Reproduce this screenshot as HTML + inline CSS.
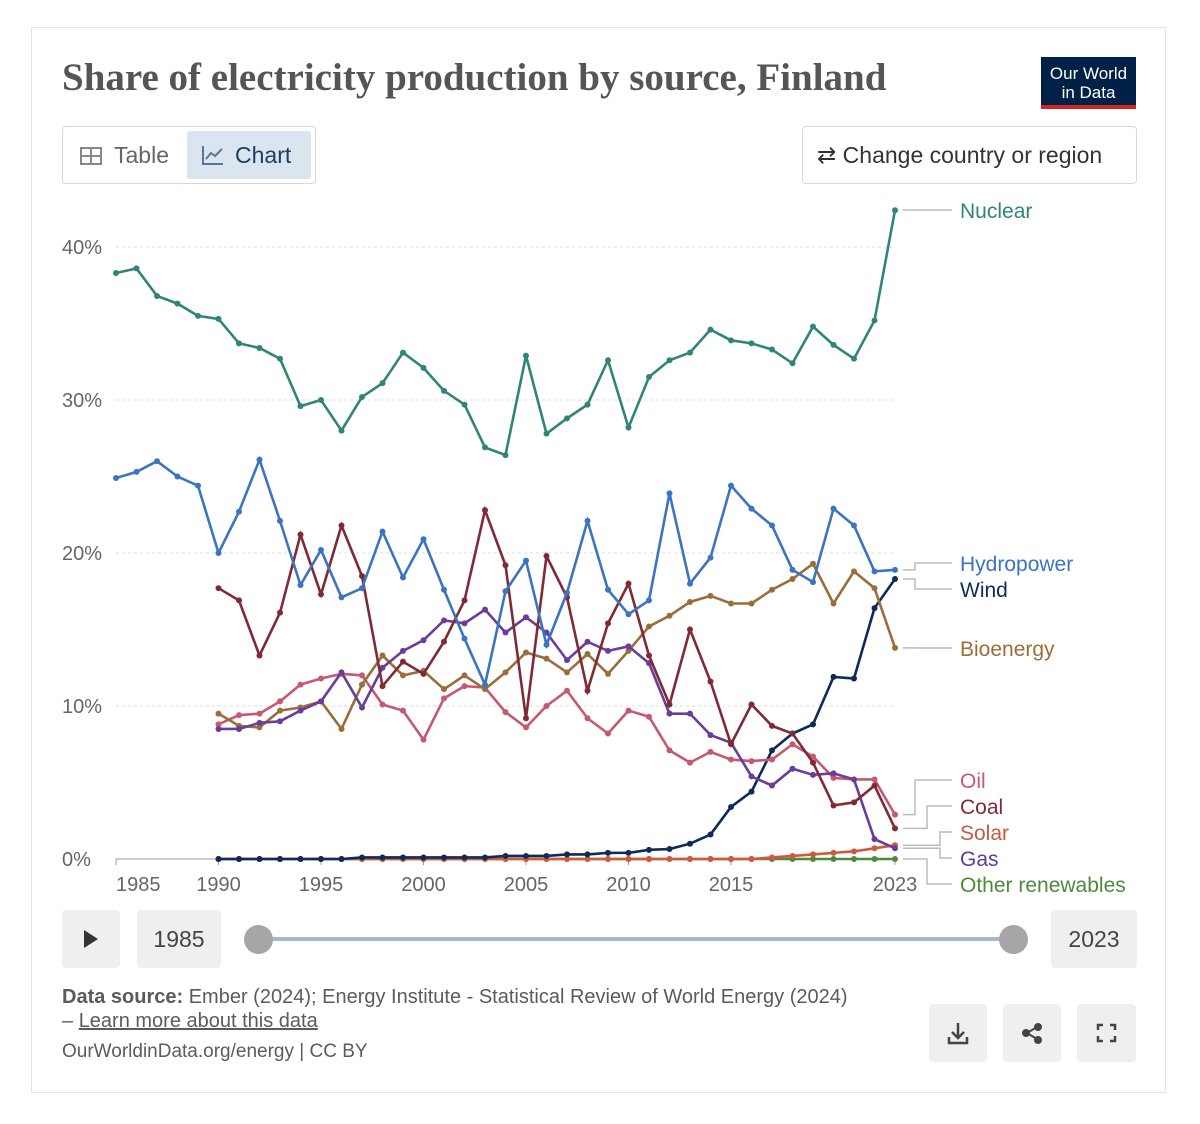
<!DOCTYPE html>
<html><head><meta charset="utf-8">
<style>
body{margin:0;background:#fff;font-family:"Liberation Sans",sans-serif;}
.card{position:absolute;left:31px;top:27px;width:1135px;height:1066px;border:1px solid #e4e4e4;box-sizing:border-box;}
.btn{position:absolute;box-sizing:border-box;border:1px solid #d8d8d8;border-radius:4px;color:#444;font-size:23px;}
.gbox{position:absolute;background:#efefef;border-radius:4px;color:#444;font-size:23px;text-align:center;}
</style></head><body>
<div class="card"></div>
<div style="position:absolute;left:62px;top:55px;font-family:'Liberation Serif',serif;font-weight:bold;font-size:39px;color:#555;">Share of electricity production by source, Finland</div>
<div style="position:absolute;left:1041px;top:57px;width:95px;height:52px;background:#002147;color:#fff;font-size:17px;line-height:19px;text-align:center;box-sizing:border-box;padding-top:7px;border-bottom:4px solid #ce261e;">Our World<br>in Data</div>
<div class="btn" style="left:62px;top:126px;width:254px;height:58px;"></div>
<div style="position:absolute;left:70px;top:131px;width:114px;height:48px;color:#666;font-size:23px;line-height:48px;"><span style="display:inline-block;width:22px;height:18px;border:2px solid #888;box-sizing:border-box;margin:0 12px 0 10px;vertical-align:-2px;background:linear-gradient(#888,#888) 0 6px/100% 2px no-repeat,linear-gradient(#888,#888) 8px 0/2px 100% no-repeat;"></span>Table</div>
<div style="position:absolute;left:187px;top:131px;width:124px;height:48px;background:#dbe5f0;border-radius:3px;color:#1d3d63;font-size:23px;line-height:48px;"><svg width="24" height="22" style="margin:0 10px 0 14px;vertical-align:-3px"><path d="M2 2V20H22" fill="none" stroke="#5b7597" stroke-width="2"/><path d="M5 15L10 9L14 12L21 5" fill="none" stroke="#5b7597" stroke-width="2"/></svg>Chart</div>
<div class="btn" style="left:802px;top:126px;width:335px;height:58px;line-height:56px;padding-left:14px;color:#333;">⇄ Change country or region</div>

<svg id="chart" width="1200" height="910" style="position:absolute;left:0;top:0;font-family:'Liberation Sans',sans-serif;"></svg>

<div class="gbox" style="left:62px;top:910px;width:58px;height:58px;"><svg width="58" height="58"><path d="M22 20L36 29L22 38Z" fill="#333"/></svg></div>
<div class="gbox" style="left:137px;top:910px;width:84px;height:58px;line-height:58px;">1985</div>
<div style="position:absolute;left:258px;top:937px;width:755px;height:4px;background:#a8b6cc;"></div>
<div style="position:absolute;left:244px;top:925px;width:29px;height:29px;border-radius:50%;background:#a6a6a6;"></div>
<div style="position:absolute;left:999px;top:925px;width:29px;height:29px;border-radius:50%;background:#a6a6a6;"></div>
<div class="gbox" style="left:1051px;top:910px;width:86px;height:58px;line-height:58px;">2023</div>

<div style="position:absolute;left:62px;top:985px;width:790px;font-size:20px;line-height:24px;color:#5b5b5b;"><b>Data source:</b> Ember (2024); Energy Institute - Statistical Review of World Energy (2024) – <u>Learn more about this data</u></div>
<div style="position:absolute;left:62px;top:1041px;font-size:19px;color:#5b5b5b;">OurWorldinData.org/energy | CC BY</div>
<div class="gbox" style="left:929px;top:1004px;width:58px;height:58px;"><svg width="58" height="58"><path d="M29 19V34M23 28L29 34L35 28M20 33V39H38V33" fill="none" stroke="#444" stroke-width="2.5"/></svg></div>
<div class="gbox" style="left:1003px;top:1004px;width:58px;height:58px;"><svg width="58" height="58"><path d="M24 29L34 23M24 29L34 35" stroke="#444" stroke-width="2"/><circle cx="23" cy="29" r="4" fill="#444"/><circle cx="35" cy="23" r="4" fill="#444"/><circle cx="35" cy="36" r="4" fill="#444"/></svg></div>
<div class="gbox" style="left:1077px;top:1004px;width:59px;height:58px;"><svg width="59" height="58"><path d="M21 26V21H26M33 21H38V26M38 32V37H33M26 37H21V32" fill="none" stroke="#444" stroke-width="2.5"/></svg></div>

<script>
const years=[];for(let y=1985;y<=2023;y++)years.push(y);
const nuclear=[38.3,38.6,36.8,36.3,35.5,35.3,33.7,33.4,32.7,29.6,30.0,28.0,30.2,31.1,33.1,32.1,30.6,29.7,26.9,26.4,32.9,27.8,28.8,29.7,32.6,28.2,31.5,32.6,33.1,34.6,33.9,33.7,33.3,32.4,34.8,33.6,32.7,35.2,42.4];
const hydro=[24.9,25.3,26.0,25.0,24.4,20.0,22.7,26.1,22.1,17.9,20.2,17.1,17.7,21.4,18.4,20.9,17.6,14.4,11.4,17.5,19.5,14.0,17.4,22.1,17.6,16.0,16.9,23.9,18.0,19.7,24.4,22.9,21.8,18.9,18.1,22.9,21.8,18.8,18.9];
const coal=[null,null,null,null,null,17.7,16.9,13.3,16.1,21.2,17.3,21.8,18.5,11.3,12.9,12.1,14.2,16.9,22.8,19.2,9.2,19.8,17.1,11.0,15.4,18.0,13.3,10.1,15.0,11.6,7.5,10.1,8.7,8.2,6.3,3.5,3.7,4.8,2.0];
const bio=[null,null,null,null,null,9.5,8.7,8.6,9.7,9.9,10.3,8.5,11.4,13.3,12.0,12.3,11.1,12.0,11.1,12.2,13.5,13.1,12.2,13.4,12.1,13.6,15.2,15.9,16.8,17.2,16.7,16.7,17.6,18.3,19.3,16.7,18.8,17.7,13.8];
const gas=[null,null,null,null,null,8.5,8.5,8.9,9.0,9.7,10.3,12.2,9.9,12.5,13.6,14.3,15.6,15.4,16.3,14.8,15.8,14.8,13.0,14.2,13.6,13.9,12.8,9.5,9.5,8.1,7.6,5.4,4.8,5.9,5.5,5.6,5.2,1.3,0.7];
const oil=[null,null,null,null,null,8.8,9.4,9.5,10.3,11.4,11.8,12.1,12.0,10.1,9.7,7.8,10.5,11.3,11.2,9.6,8.6,10.0,11.0,9.2,8.2,9.7,9.3,7.1,6.3,7.0,6.5,6.4,6.5,7.5,6.7,5.3,5.2,5.2,2.9];
const wind=[null,null,null,null,null,0,0,0,0,0,0,0,0.1,0.1,0.1,0.1,0.1,0.1,0.1,0.2,0.2,0.2,0.3,0.3,0.4,0.4,0.6,0.65,1.0,1.6,3.4,4.4,7.1,8.2,8.8,11.9,11.8,16.4,18.3];
const solar=[null,null,null,null,null,0,0,0,0,0,0,0,0,0,0,0,0,0,0,0,0,0,0,0,0,0,0,0,0,0,0,0,0.1,0.2,0.3,0.4,0.5,0.7,0.9];
const other=[null,null,null,null,null,0,0,0,0,0,0,0,0,0,0,0,0,0,0,0,0,0,0,0,0,0,0,0,0,0,0,0,0,0,0,0,0,0,0];
const yTicks=[0,10,20,30,40];
const xTicks=[1985,1990,1995,2000,2005,2010,2015,2023];

const X=y=>116+(y-1985)*20.5, Y=v=>859-v*15.3;
const svg=document.getElementById('chart');const NS='http://www.w3.org/2000/svg';
function mk(t,a,p){const e=document.createElementNS(NS,t);for(const k in a)e.setAttribute(k,a[k]);(p||svg).appendChild(e);return e;}
yTicks.forEach(v=>{
 if(v>0){const g=mk('line',{x1:116,x2:895,y1:Y(v),y2:Y(v),stroke:'#ddd','stroke-dasharray':'3,3'});
 
 }
 const t=mk('text',{x:62,y:Y(v)+7,'font-size':20,fill:'#666'});t.textContent=v+'%';
 
 
});
const ax=mk('line',{x1:116,x2:895,y1:859,y2:859,stroke:'#999'});


xTicks.forEach((yr,i)=>{
 mk('line',{x1:X(yr),x2:X(yr),y1:859,y2:865,stroke:'#999'});
 const t=mk('text',{x:i==0?X(yr):X(yr),y:891,'font-size':20,fill:'#666','text-anchor':i==0?'start':'middle'});t.textContent=yr;
 
 
});
const series=[
 ['other-renewables',other,'#4e8a3c'],['solar',solar,'#d0593c'],['wind',wind,'#0e2a5a'],['oil',oil,'#c55a6e'],['bioenergy',bio,'#9a6e3a'],['gas',gas,'#6a3d9a'],['coal',coal,'#7f2a35'],['hydropower',hydro,'#3b74c0'],['nuclear',nuclear,'#2f8577']];
series.forEach(([name,d,c])=>{
 const g=mk('g',{});
 
 
 let pts=[];d.forEach((v,i)=>{if(v!==null)pts.push([X(years[i]),Y(v)]);});
 mk('polyline',{points:pts.map(p=>p.join(',')).join(' '),fill:'none',stroke:c,'stroke-width':2.6},g);
 pts.forEach(p=>{const dot=mk('circle',{cx:p[0],cy:p[1],r:3,fill:c},g);
 
 });
});
const labels=[['Nuclear',nuclear,'#2f8577',210,903],['Hydropower',hydro,'#3b74c0',563,915],['Wind',wind,'#0e2a5a',589,915],['Bioenergy',bio,'#9a6e3a',648,915],['Oil',oil,'#c55a6e',780,915],['Coal',coal,'#7f2a35',806,927],['Solar',solar,'#c55a3e',832,940],['Gas',gas,'#5b3d9a',858,940],['Other renewables',other,'#4e8a3c',884,927]];
labels.forEach(([n,d,c,ly,ex])=>{
 const py=Y(d[d.length-1]);
 mk('path',{d:`M903 ${py}H${ex}V${ly}H952`,fill:'none',stroke:'#bbb','stroke-width':1.5});
 const t=mk('text',{x:960,y:ly+8,'font-size':21,fill:c});t.textContent=n;
 
 
});
</script>
</body></html>
